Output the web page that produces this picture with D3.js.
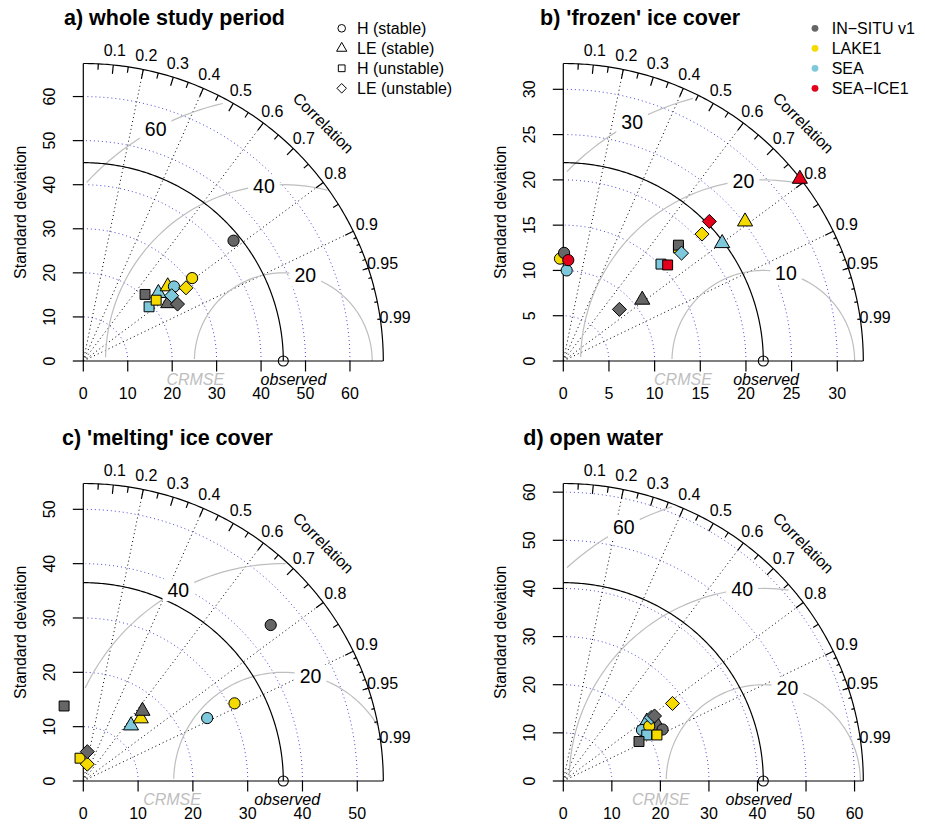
<!DOCTYPE html>
<html>
<head>
<meta charset="utf-8">
<script src="https://cdn.jsdelivr.net/npm/d3@7"></script>
<style>
body { margin: 0; background: #fff; }
svg text { font-family: "Liberation Sans", Arial, Helvetica, sans-serif; }
</style>
</head>
<body>
<div id="chart"></div>
<script>
// models and variables
var models = ["IN\u2212SITU v1", "LAKE1", "SEA", "SEA\u2212ICE1"];
var modelColors = ["#666666", "#F5DA00", "#7EC8DC", "#E3001B"];
var variables = ["H (stable)", "LE (stable)", "H (unstable)", "LE (unstable)"];
var symbols = ["circle", "triangle", "square", "diamond"];
var titles = ["a) whole study period", "b) 'frozen' ice cover", "c) 'melting' ice cover", "d) open water"];

// observed standard deviation per period
var refSD = [45, 21.9, 36.5, 41.2];

var corLabels = [0.1, 0.2, 0.3, 0.4, 0.5, 0.6, 0.7, 0.8, 0.9, 0.95, 0.99];
var corLines = [0.2, 0.4, 0.6, 0.8, 0.9];

// rows = models, cols = variables (null = not available)
var sdWhole = [[43.45, 23.16, 20.52, 24.82],
               [30.88, 25.43, 21.43, 28.45],
               [26.49, 22.86, 19.24, 24.80],
               null];
var corWhole = [[0.778, 0.825, 0.677, 0.854],
                [0.793, 0.747, 0.765, 0.812],
                [0.770, 0.739, 0.769, 0.802],
                null];

var sdFrozen = [[11.94, 10.97, 17.96, 8.38],
                [11.31, 25.16, 17.75, 20.67],
                [10.01, 21.72, 15.13, 17.59],
                [11.15, 32.79, 15.59, 22.21]];
var corFrozen = [[0.007, 0.788, 0.702, 0.733],
                 [-0.032, 0.791, 0.710, 0.735],
                 [0.037, 0.801, 0.707, 0.736],
                 [0.049, 0.790, 0.733, 0.720]];

var sdMelting = [[44.65, 16.82, 14.24, 5.45],
                 [31.08, 15.57, 4.24, 3.18],
                 [25.40, 13.41, null, null],
                 null];
var corMelting = [[0.766, 0.642, -0.246, 0.134],
                  [0.888, 0.674, -0.141, 0.229],
                  [0.890, 0.649, null, null],
                  null];

var sdOpen = [[23.08, 22.59, 17.62, 23.14],
              [21.05, 21.58, 21.53, 27.67],
              [19.36, 21.15, 19.67, 22.40],
              null];
var corOpen = [[0.886, 0.863, 0.885, 0.812],
               [0.841, 0.871, 0.896, 0.813],
               [0.837, 0.813, 0.874, 0.808],
               null];

var sdAll = [sdWhole, sdFrozen, sdMelting, sdOpen];
var corAll = [corWhole, corFrozen, corMelting, corOpen];

// layout
var W = 925, H = 827;
var origins = [[83.3, 361], [563.3, 361], [83.3, 781], [563.3, 781]];
var radX = 300, radY = 297.5;
var titlePos = [[64, 25], [540, 25], [62, 445], [523.3, 445]];
var obsLabelX = [47.3, 22.2, 37.2, 40.2];
var crmseLabelX = [25.2, 13.1, 16.2, 20.1];
var PR = 5.6; // point radius

var svg = d3.select("#chart").append("svg")
  .attr("width", W)
  .attr("height", H);

function symbolPath(type, R) {
  if (type == "circle") {
    return "M" + R + ",0A" + R + "," + R + " 0 1,1 " + (-R) + ",0A" + R + "," + R + " 0 1,1 " + R + ",0Z";
  }
  if (type == "triangle") {
    return "M0," + (-1.555 * R) + "L" + (1.347 * R) + "," + (0.778 * R) + "L" + (-1.347 * R) + "," + (0.778 * R) + "Z";
  }
  if (type == "square") {
    var s = 0.886 * R;
    return "M" + (-s) + "," + (-s) + "H" + s + "V" + s + "H" + (-s) + "Z";
  }
  var d = 1.253 * R;
  return "M0," + (-d) + "L" + d + ",0L0," + d + "L" + (-d) + ",0Z";
}

function taylor(p) {
  var sdr = refSD[p];
  var maxsd = 1.5 * sdr;
  var o = origins[p];
  var x = d3.scaleLinear().domain([0, maxsd]).range([o[0], o[0] + radX]);
  var y = d3.scaleLinear().domain([0, maxsd]).range([o[1], o[1] - radY]);
  var g = svg.append("g");
  var line = d3.line().x(function(d) { return x(d[0]); }).y(function(d) { return y(d[1]); });

  function quarter(r) {
    var pts = [];
    for (var t = 0; t <= Math.PI / 2 + 1e-9; t += 0.01) pts.push([r * Math.cos(t), r * Math.sin(t)]);
    pts.push([0, r]);
    return pts;
  }

  // sd arcs
  var sdTicks = d3.ticks(0, maxsd, 6);
  sdTicks.forEach(function(s) {
    if (s == 0) return;
    var pts = [];
    for (var t = 0; t <= Math.PI / 2; t += 0.03) pts.push([s * Math.cos(t), s * Math.sin(t)]);
    g.append("path").attr("d", line(pts))
      .attr("fill", "none").attr("stroke", "#2a2ad0").attr("stroke-opacity", 0.85)
      .attr("stroke-width", 1).attr("stroke-dasharray", "1,3");
  });

  // correlation lines
  corLines.forEach(function(c) {
    g.append("path").attr("d", line([[0, 0], [maxsd * c, maxsd * Math.sqrt(1 - c * c)]]))
      .attr("stroke", "#000").attr("stroke-width", 1).attr("stroke-dasharray", "1,3");
  });

  // CRMSE arcs
  var gammas = d3.ticks(0, maxsd, 3).filter(function(v) { return v > 0 && v <= maxsd; });
  var labelpos = d3.range(gammas.length).map(function(i) {
    return gammas.length == 1 ? 45 : 45 + i * 25 / (gammas.length - 1);
  });
  var gammaLabels = [];
  gammas.forEach(function(gm, gi) {
    var xc = [], yc = [];
    for (var k = 0; k < 105; k++) {
      xc.push(Math.cos(k * 0.03) * gm + sdr);
      yc.push(Math.sin(k * 0.03) * gm);
    }
    var end = 104;
    for (var k = 0; k < 105; k++) { if (xc[k] < 0) { end = k - 1; break; } }
    var start = 0;
    for (var k = 0; k < 105; k++) { if (xc[k] * xc[k] + yc[k] * yc[k] > maxsd * maxsd) start = k + 1; }
    var pts = [];
    for (var k = start; k <= end; k++) pts.push([xc[k], yc[k]]);
    g.append("path").attr("d", line(pts))
      .attr("fill", "none").attr("stroke", "#BEBEBE").attr("stroke-width", 1.2);
    var li = Math.floor(labelpos[gi]) - 1;
    if (xc[li] > 0) gammaLabels.push({ v: gm, x: xc[li], y: yc[li] });
  });

  // outer arc and reference arc
  g.append("path").attr("d", line(quarter(maxsd)))
    .attr("fill", "none").attr("stroke", "#000").attr("stroke-width", 1.2);
  g.append("path").attr("d", line(quarter(sdr)))
    .attr("fill", "none").attr("stroke", "#000").attr("stroke-width", 1.2);

  // axes
  g.append("path").attr("d", line([[0, 0], [maxsd, 0]])).attr("stroke", "#000").attr("stroke-width", 1.2);
  g.append("path").attr("d", line([[0, 0], [0, maxsd]])).attr("stroke", "#000").attr("stroke-width", 1.2);
  sdTicks.forEach(function(s) {
    g.append("line").attr("x1", x(s)).attr("x2", x(s)).attr("y1", y(0)).attr("y2", y(0) + 10.5)
      .attr("stroke", "#000").attr("stroke-width", 1.2);
    g.append("text").attr("x", x(s)).attr("y", y(0) + 37.5)
      .attr("text-anchor", "middle").attr("font-size", 16).text(s);
    g.append("line").attr("x1", x(0)).attr("x2", x(0) - 10.5).attr("y1", y(s)).attr("y2", y(s))
      .attr("stroke", "#000").attr("stroke-width", 1.2);
    g.append("text").attr("transform", "translate(" + (x(0) - 28.5) + "," + y(s) + ") rotate(-90)")
      .attr("text-anchor", "middle").attr("font-size", 16).text(s);
  });
  g.append("text")
    .attr("transform", "translate(" + (x(0) - 57.3) + "," + y(maxsd / 2) + ") rotate(-90)")
    .attr("text-anchor", "middle").attr("font-size", 16).text("Standard deviation");

  // correlation ticks
  function tick(c, f) {
    var a = Math.acos(c);
    g.append("path").attr("d", line([[Math.cos(a) * maxsd, Math.sin(a) * maxsd],
                                      [Math.cos(a) * f * maxsd, Math.sin(a) * f * maxsd]]))
      .attr("stroke", "#000").attr("stroke-width", 1.2);
  }
  d3.range(1, 10).forEach(function(i) { tick(i / 10, 0.97); });
  d3.range(0, 10).forEach(function(i) { tick(0.05 + i / 10, 0.98); });
  d3.range(91, 100).forEach(function(i) { tick(i / 100, 0.99); });
  corLabels.forEach(function(c) {
    var a = Math.acos(c);
    g.append("text").attr("x", x(Math.cos(a) * 1.05 * maxsd)).attr("y", y(Math.sin(a) * 1.05 * maxsd))
      .attr("dy", "0.35em").attr("text-anchor", "middle").attr("font-size", 16).text(c);
  });
  g.append("text")
    .attr("transform", "translate(" + x(0.8 * maxsd) + "," + y(0.8 * maxsd) + ") rotate(45)")
    .attr("dy", "0.35em").attr("text-anchor", "middle").attr("font-size", 16).text("Correlation");

  // CRMSE labels (boxed)
  gammaLabels.forEach(function(d) {
    var t = g.append("text").attr("x", x(d.x)).attr("y", y(d.y)).attr("dy", "0.35em")
      .attr("text-anchor", "middle").attr("font-size", 19.5).text(d.v);
    var w = t.node().getComputedTextLength();
    g.insert("rect", function() { return t.node(); })
      .attr("x", x(d.x) - w / 2 - 5).attr("y", y(d.y) - 11)
      .attr("width", w + 10).attr("height", 22).attr("fill", "#fff");
  });

  // observed
  g.append("circle").attr("cx", x(sdr)).attr("cy", y(0)).attr("r", 5)
    .attr("fill", "none").attr("stroke", "#000").attr("stroke-width", 1.1);
  g.append("text").attr("x", x(obsLabelX[p])).attr("y", y(0) + 23.5)
    .attr("text-anchor", "middle").attr("font-size", 16).attr("font-style", "italic").text("observed");
  g.append("text").attr("x", x(crmseLabelX[p])).attr("y", y(0) + 23.5)
    .attr("text-anchor", "middle").attr("font-size", 16).attr("font-style", "italic")
    .attr("fill", "#BEBEBE").text("CRMSE");

  // model points
  var sd = sdAll[p], cor = corAll[p];
  var shapeOrder = [1, 0, 2, 3];
  var modelOrder = [2, 1, 0, 3];
  shapeOrder.forEach(function(v) {
    modelOrder.forEach(function(m) {
      if (!sd[m] || sd[m][v] == null) return;
      var s = sd[m][v], c = cor[m][v];
      g.append("path").attr("d", symbolPath(symbols[v], PR))
        .attr("transform", "translate(" + x(s * c) + "," + y(s * Math.sqrt(1 - c * c)) + ")")
        .attr("fill", modelColors[m]).attr("stroke", "#000").attr("stroke-width", 1);
    });
  });

  // title
  g.append("text").attr("x", titlePos[p][0]).attr("y", titlePos[p][1])
    .attr("font-size", 21.5).attr("font-weight", "bold").text(titles[p]);
}

d3.range(4).forEach(taylor);

// legend: variables (panel a)
var leg1 = svg.append("g");
variables.forEach(function(v, i) {
  leg1.append("path").attr("d", symbolPath(symbols[i], 3.8))
    .attr("transform", "translate(341.7," + (28.3 + 20 * i) + ")")
    .attr("fill", "none").attr("stroke", "#000").attr("stroke-width", 1);
  leg1.append("text").attr("x", 357).attr("y", 28.3 + 20 * i).attr("dy", "0.35em")
    .attr("font-size", 16).text(v);
});

// legend: models (panel b)
var leg2 = svg.append("g");
models.forEach(function(m, i) {
  leg2.append("circle").attr("cx", 815).attr("cy", 28.3 + 20 * i).attr("r", 3.4)
    .attr("fill", modelColors[i]);
  leg2.append("text").attr("x", 831.7).attr("y", 28.3 + 20 * i).attr("dy", "0.35em")
    .attr("font-size", 16).text(m);
});
</script>
</body>
</html>
